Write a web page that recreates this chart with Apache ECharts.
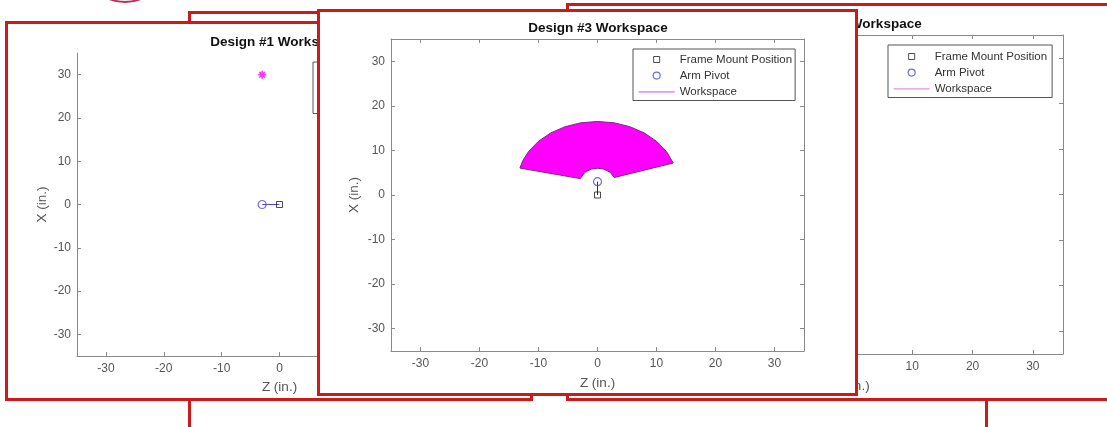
<!DOCTYPE html>
<html>
<head>
<meta charset="utf-8">
<title>Design Workspaces</title>
<script src="https://cdn.jsdelivr.net/npm/echarts@6/dist/echarts.min.js"></script>
<style>
    html, body { margin: 0; padding: 0; background: #fff; }
    #page { position: relative; width: 1107px; height: 427px; overflow: hidden; background: #fff; }
    .frame { position: absolute; box-sizing: border-box; border: 3px solid #cc1a1a; background: #fff; overflow: hidden; }
    .plot { position: absolute; width: 1107px; height: 427px; }
</style>
</head>
<body>
<div id="page">
    <div id="bg" class="plot" style="left:0;top:0"></div>
    <div class="frame" style="left:188px;top:11px;width:800px;height:440px"></div>
    <div class="frame" style="left:5px;top:21px;width:528px;height:380px"><div class="plot" id="chart1"></div></div>
    <div class="frame" style="left:566px;top:3px;width:560px;height:398px"><div class="plot" id="chart2"></div></div>
    <div class="frame" style="left:317px;top:9px;width:541px;height:387px"><div class="plot" id="chart3"></div></div>
</div>
<script>
// axes are the same on every figure
const axisMin = -35;
const axisMax = 35;
const tickValues = [-30, -20, -10, 0, 10, 20, 30];

// Design #1
const mount1 = [[0, 0]];
const pivot1 = [[-3, 0]];
const workspace1 = [[-3, 30]];

// Design #3 : workspace outline (Z, X)
const mount3 = [[0, 0]];
const pivot3 = [[0, 3]];
const workspace3Z = [12.84, 11.69, 10.03, 7.94, 5.49, 2.81, 0, -2.81, -5.49, -7.94, -10.03, -11.69, -12.69, -13.15,
    -2.92, -2.12, -1.03, 0, 1.03, 2.12, 2.85];
const workspace3X = [7.17, 9.75, 12.03, 13.92, 15.33, 16.2, 16.5, 16.2, 15.33, 13.92, 12.03, 9.75, 7.62, 6.04,
    3.68, 5.12, 5.82, 6, 5.82, 5.12, 3.93];

// right-hand figure, only its right part can be seen
const mount2 = [];
const pivot2 = [];

const font = '"Liberation Sans", Arial, Helvetica, sans-serif';
const axisColor = '#8a8a8a';
const labelColor = '#555';

const iconSquare = 'path://M0,0M36,14M15,4H21V10H15Z';
const iconCircle = 'path://M0,0M36,14M21.5,7A3.5,3.5,0,1,1,14.5,7A3.5,3.5,0,1,1,21.5,7Z';
const iconLine = 'path://M0,0M36,14M0,7H36';

function legendOf(left, top, padding) {
    return {
        orient: 'vertical', left: left, top: top, padding: padding,
        itemWidth: 36, itemHeight: 14, itemGap: 1,
        backgroundColor: '#fff', borderColor: '#555', borderWidth: 1, borderRadius: 0,
        selectedMode: false, symbolKeepAspect: true,
        textStyle: { fontSize: 11.5, color: '#333', fontFamily: font },
        data: [
            { name: 'Frame Mount Position', icon: iconSquare, itemStyle: { color: 'transparent', borderColor: '#222', borderWidth: 1 } },
            { name: 'Arm Pivot', icon: iconCircle, itemStyle: { color: 'transparent', borderColor: '#4a4ad8', borderWidth: 1.2 } },
            { name: 'Workspace', icon: iconLine, itemStyle: { color: 'transparent', borderColor: '#e070e0', borderWidth: 1.3 } }
        ]
    };
}

function xAxes(box, gap) {
    return [{
        type: 'value', position: 'bottom', min: axisMin, max: axisMax,
        name: 'Z (in.)', nameLocation: 'middle', nameGap: gap, nameMoveOverlap: false,
        nameTextStyle: { color: labelColor, fontSize: 13.5, fontFamily: font },
        axisLine: { show: true, onZero: false, lineStyle: { color: axisColor, width: 1 } },
        axisTick: { show: true, inside: true, length: 4, customValues: tickValues, lineStyle: { color: axisColor } },
        axisLabel: { customValues: tickValues, color: labelColor, fontSize: 12, fontFamily: font, margin: 7 },
        splitLine: { show: false }
    }, {
        type: 'value', position: 'top', min: axisMin, max: axisMax,
        axisLine: { show: box, onZero: false, lineStyle: { color: axisColor, width: 1 } },
        axisTick: { show: box, inside: true, length: 4, customValues: tickValues, lineStyle: { color: axisColor } },
        axisLabel: { show: false },
        splitLine: { show: false }
    }];
}

function yAxes(box, gap) {
    return [{
        type: 'value', position: 'left', min: axisMin, max: axisMax,
        name: 'X (in.)', nameLocation: 'middle', nameGap: gap, nameMoveOverlap: false,
        nameTextStyle: { color: labelColor, fontSize: 13.5, fontFamily: font },
        axisLine: { show: true, onZero: false, lineStyle: { color: axisColor, width: 1 } },
        axisTick: { show: true, inside: true, length: 4, customValues: tickValues, lineStyle: { color: axisColor } },
        axisLabel: { customValues: tickValues, color: labelColor, fontSize: 12, fontFamily: font, margin: 6 },
        splitLine: { show: false }
    }, {
        type: 'value', position: 'right', min: axisMin, max: axisMax,
        axisLine: { show: box, onZero: false, lineStyle: { color: axisColor, width: 1 } },
        axisTick: { show: box, inside: true, length: 4, customValues: tickValues, lineStyle: { color: axisColor } },
        axisLabel: { show: false },
        splitLine: { show: false }
    }];
}

function titleOf(text, x, y) {
    return {
        text: text, left: x, top: y, padding: 0, textAlign: 'center', textVerticalAlign: 'middle',
        textStyle: { fontSize: 13.5, fontWeight: 'bold', color: '#111', fontFamily: font }
    };
}

function markerSeries(mount, pivot, linkColor) {
    let link = pivot.length && mount.length ? [pivot[0], mount[0]] : [];
    return [{
        name: 'link', type: 'line', data: link, symbol: 'none', silent: true, z: 3,
        lineStyle: { color: linkColor, width: 1 }
    }, {
        name: 'Frame Mount Position', type: 'scatter', data: mount, symbol: 'rect', symbolSize: 6, z: 4,
        itemStyle: { color: 'transparent', borderColor: '#222', borderWidth: 1 }
    }, {
        name: 'Arm Pivot', type: 'scatter', data: pivot, symbol: 'circle', symbolSize: 8, z: 4,
        itemStyle: { color: 'transparent', borderColor: '#4a4ad8', borderWidth: 1.2 }
    }];
}

function place(id) {
    let el = document.getElementById(id);
    let frame = el.parentNode;
    el.style.left = -(frame.offsetLeft + frame.clientLeft) + 'px';
    el.style.top = -(frame.offsetTop + frame.clientTop) + 'px';
    return echarts.init(el, null, { renderer: 'canvas' });
}

// little logo cut by the top edge
echarts.init(document.getElementById('bg')).setOption({
    animation: false,
    graphic: [{ type: 'circle', shape: { cx: 125, cy: -40, r: 42 }, style: { fill: '#f4e9ec', stroke: '#b8325a', lineWidth: 2 } }]
});

// Design #1
place('chart1').setOption({
    animation: false,
    title: titleOf('Design #1 Workspace', 280, 42),
    legend: legendOf(313, 62, [3, 4, 1, 5]),
    grid: { left: 77, top: 53, width: 405, height: 303, outerBoundsMode: 'none' },
    xAxis: xAxes(false, 24),
    yAxis: yAxes(false, 28),
    series: markerSeries(mount1, pivot1, '#4a4ad8').concat([{
        name: 'Workspace', type: 'scatter', data: workspace1, z: 4, symbolSize: 8,
        symbol: 'path://M5,0V10M0,5H10M1.5,1.5L8.5,8.5M8.5,1.5L1.5,8.5',
        itemStyle: { color: 'transparent', borderColor: '#ff00ff', borderWidth: 1.6 }
    }])
});

// right-hand figure
place('chart2').setOption({
    animation: false,
    title: titleOf('Design #2 Workspace', 852, 24),
    legend: legendOf(888, 45, [4, 5, 1, 5]),
    grid: { left: 641, top: 35, width: 422, height: 319, outerBoundsMode: 'none' },
    xAxis: xAxes(true, 25),
    yAxis: yAxes(true, 30),
    series: markerSeries(mount2, pivot2, '#333').concat([{
        name: 'Workspace', type: 'scatter', data: []
    }])
});

// Design #3
place('chart3').setOption({
    animation: false,
    title: titleOf('Design #3 Workspace', 598, 28),
    legend: legendOf(633, 49, [3, 3, 1, 5]),
    grid: { left: 391, top: 39, width: 413, height: 312, outerBoundsMode: 'none' },
    xAxis: xAxes(true, 25),
    yAxis: yAxes(true, 30),
    series: [{
        name: 'Workspace', type: 'custom', z: 2,
        data: workspace3Z.map((z, i) => [z, workspace3X[i]]),
        renderItem: function(params, api) {
            if (params.dataIndex !== 0) {
                return null;
            }
            let points = workspace3Z.map((z, i) => api.coord([z, workspace3X[i]]));
            return {
                type: 'polygon',
                shape: { points: points },
                style: { fill: '#ff00ff', stroke: '#7a2a7a', lineWidth: 1 }
            };
        }
    }].concat(markerSeries(mount3, pivot3, '#333'))
});
</script>
</body>
</html>
